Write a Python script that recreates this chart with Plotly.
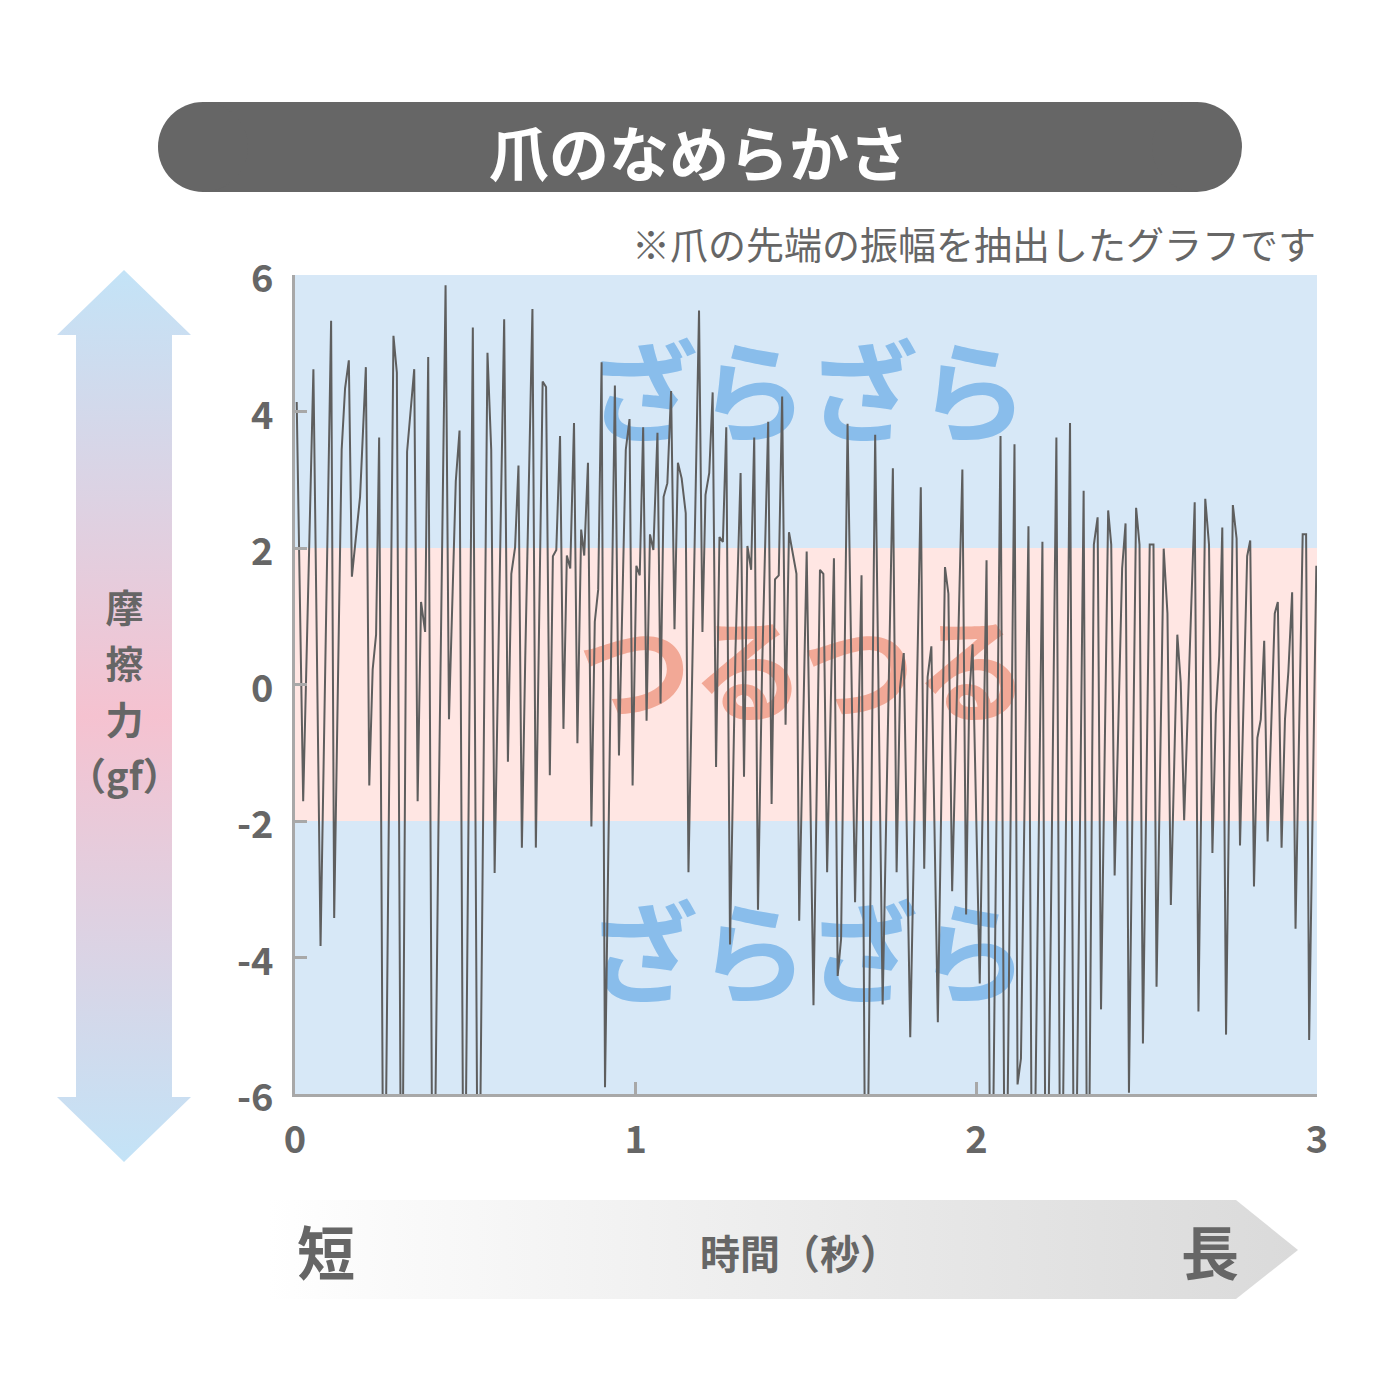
import plotly.graph_objects as go

# ---------------- data ----------------
time_s = [
    0.005, 0.024, 0.054, 0.075, 0.106, 0.115, 0.137, 0.147, 0.158, 0.167, 0.191, 0.208, 0.218, 0.228, 0.238, 0.247, 0.261, 0.289,
    0.299, 0.313, 0.329, 0.350, 0.360, 0.370, 0.382, 0.391, 0.405, 0.421, 0.442, 0.452, 0.472, 0.483, 0.496, 0.522, 0.538, 0.565, 0.576, 0.586,
    0.614, 0.625, 0.635, 0.646, 0.656, 0.666, 0.676, 0.697, 0.707, 0.727, 0.737, 0.748, 0.757, 0.767, 0.778, 0.788, 0.798, 0.808, 0.819, 0.829,
    0.840, 0.849, 0.860, 0.870, 0.880, 0.890, 0.900,
    0.910, 0.939, 0.951, 0.971, 0.982, 0.991, 1.002, 1.012, 1.022, 1.032, 1.042, 1.052, 1.064, 1.073, 1.082, 1.093, 1.104, 1.114, 1.124, 1.135,
    1.147, 1.155, 1.186, 1.196,
    1.205, 1.216, 1.226, 1.236, 1.246, 1.256, 1.266, 1.277, 1.293, 1.308, 1.318, 1.328, 1.339, 1.348, 1.359, 1.371, 1.389, 1.399, 1.409, 1.420,
    1.430, 1.440, 1.450, 1.472, 1.480, 1.502,
    1.522, 1.541, 1.551, 1.562, 1.582, 1.593, 1.603, 1.622, 1.644, 1.663, 1.676, 1.703, 1.725, 1.755, 1.766, 1.776, 1.787, 1.806,
    1.837, 1.847, 1.857, 1.868, 1.887, 1.908, 1.918, 1.929, 1.959, 1.970, 1.979, 1.989, 2.010, 2.030, 2.043, 2.071, 2.085, 2.112,
    2.121, 2.131, 2.153, 2.165, 2.194, 2.205, 2.235, 2.248, 2.275, 2.288, 2.315, 2.327, 2.345, 2.356, 2.366, 2.387, 2.396, 2.406,
    2.428, 2.438, 2.448, 2.469, 2.479, 2.489, 2.509, 2.520, 2.529, 2.550, 2.561, 2.571, 2.590, 2.600, 2.610, 2.641, 2.652, 2.672, 2.683,
    2.693, 2.703, 2.713,
    2.722, 2.733, 2.753, 2.764, 2.774, 2.795, 2.804, 2.815, 2.825, 2.835, 2.845, 2.855, 2.876, 2.885, 2.896, 2.906, 2.916, 2.927, 2.937,
    2.958, 2.968, 2.977, 2.998,
]
friction_gf = [
    4.14, -1.71, 4.62, -3.83, 5.33, -3.42, 3.44, 4.34, 4.75, 1.58, 2.75, 4.65, -1.48, 0.22, 0.73, 3.62, -9.5, 5.11,
    4.57, -9.5, 3.41, 4.62, -1.71, 1.21, 0.77, 4.80, -9.5, -2.14, 5.85, -0.51, 2.98, 3.72, -9.5, 5.23, -9.5, 4.86, 3.44, -2.76,
    5.35, -1.13, 1.62, 2.01, 3.21, -2.39, 0.42, 5.50, -2.39, 4.44, 4.36, -1.33, 1.88, 1.97, 3.64, -0.65, 1.89, 1.70, 3.83, -0.86,
    2.27, 1.89, 3.25, -2.08, 0.92, 1.39, 4.72,
    -5.90, 4.38, -1.04, 3.44, 3.89, -1.48, 1.74, 1.60, 3.77, -0.53, 2.20, 1.97, 3.69, -0.28, 2.75, 2.95, 4.30, 0.81, 3.25, 3.02,
    2.51, -2.75, 5.48, 0.77,
    2.78, 3.10, 4.28, -1.21, 2.16, 2.09, 3.77, -3.81, 0.50, 3.10, -1.35, 2.03, 1.68, 3.62, -3.30, 0.19, 3.85, -1.75, 1.54, 1.60,
    4.22, -0.59, 2.23, 1.62, -3.46, 1.95,
    -4.70, 1.68, 1.62, -2.75, 1.85, -4.27, -3.73, 3.82, -3.19, 1.60, -9.5, 3.66, -4.69, 3.17, -2.75, -0.05, 0.46, -5.17,
    2.89, -2.70, 0.11, 0.56, -4.95, 1.72, 1.33, -3.03, 3.15, -3.37, -0.20, 0.59, -4.38, 1.82, -9.5, 3.64, -9.5, 3.52,
    -5.86, -5.48, 2.32, -9.5, 2.09, -9.5, 3.62, -9.5, 3.83, -9.5, 2.84, -9.5, 2.05, 2.45, -4.76, 2.55, 2.05, -2.80,
    1.70, 2.36, -5.98, 2.59, 2.05, -5.26, 2.05, 2.05, -4.43, 1.99, 1.04, -3.23, 0.73, 0.03, -1.99, 2.67, -4.79, 2.72, 2.05,
    -2.47, -0.43, 0.42,
    2.30, -5.13, 2.63, 2.14, -2.36, 1.88, 2.11, -2.96, -0.78, -0.51, 0.64, -2.30, 1.04, 1.21, -2.39, -0.51, 0.19, 1.35, -3.58,
    2.20, 2.20, -5.21, 1.74,
]
y_tick_vals = [-6, -4, -2, 0, 2, 4, 6]
y_tick_text = ["-6", "-4", "-2", "0", "2", "4", "6"]
x_tick_vals = [0, 1, 2, 3]
x_tick_text = ["0", "1", "2", "3"]
zone_labels = ["ざらざら", "つるつる", "ざらざら"]
zone_limits = [-6, -2, 2, 6]

# ---------------- styles / layout constants ----------------
W = H = 1400
OFF = 8  # page body margin added by the browser
FONT = "Noto Sans CJK JP, Noto Sans, sans-serif"
GRAY_TXT = "#666666"
AXIS_COL = "#A8A8A8"
BLUE_BAND = "#D7E8F7"
PINK_BAND = "#FFE6E3"
BLUE_TXT = "#89BDEB"
PINK_TXT = "#F2A896"
PLOT_L, PLOT_R, PLOT_T, PLOT_B = 295, 1317, 275, 1094

zone_label_x = [1.506, 1.492, 1.506]
zone_label_y = [4.07, 0.0, -4.14]
zone_label_size = [110, 114, 110]

fig = go.Figure()

# watermark zone labels (under the signal)
fig.add_trace(go.Scatter(
    x=zone_label_x, y=zone_label_y, text=zone_labels, mode="text",
    textposition="middle center",
    textfont=dict(family=FONT, size=zone_label_size, color=[BLUE_TXT, PINK_TXT, BLUE_TXT], weight="bold"),
    hoverinfo="skip", showlegend=False, cliponaxis=False,
))

# friction signal
fig.add_trace(go.Scatter(
    x=time_s, y=friction_gf, mode="lines",
    line=dict(color="#5E5E5E", width=2),
    hoverinfo="skip", showlegend=False,
))

# ---- decorative overlay in pixel coordinates (x2/y2) ----
arrow_x = [124, 191, 172, 172, 191, 124, 57, 76, 76, 57, 124]
arrow_y = [270, 335, 335, 1097, 1097, 1162, 1097, 1097, 335, 335, 270]
fig.add_trace(go.Scatter(
    x=arrow_x, y=arrow_y, xaxis="x2", yaxis="y2", mode="lines",
    fill="toself", line=dict(width=0, color="rgba(0,0,0,0)"),
    fillgradient=dict(type="vertical",
                      colorscale=[[0, "#C3E3F7"], [0.5, "#F5C2D0"], [1, "#C3E3F7"]]),
    hoverinfo="skip", showlegend=False,
))

band_x = [268, 1236, 1298, 1236, 268, 268]
band_y = [1200, 1200, 1250, 1299, 1299, 1200]
fig.add_trace(go.Scatter(
    x=band_x, y=band_y, xaxis="x2", yaxis="y2", mode="lines",
    fill="toself", line=dict(width=0, color="rgba(0,0,0,0)"),
    fillgradient=dict(type="horizontal",
                      colorscale=[[0, "#FFFFFF"], [0.12, "#FAFAFA"], [1, "#DADADA"]]),
    hoverinfo="skip", showlegend=False,
))

shapes = []
# background zones
shapes.append(dict(type="rect", xref="x", yref="y", x0=0, x1=3, y0=zone_limits[0], y1=zone_limits[3],
                   fillcolor=BLUE_BAND, line=dict(width=0), layer="below"))
shapes.append(dict(type="rect", xref="x", yref="y", x0=0, x1=3, y0=zone_limits[1], y1=zone_limits[2],
                   fillcolor=PINK_BAND, line=dict(width=0), layer="below"))
# title pill
shapes.append(dict(type="rect", xref="x2", yref="y2", x0=203, x1=1197, y0=102, y1=192,
                   fillcolor="#666666", line=dict(width=0), layer="below"))
shapes.append(dict(type="circle", xref="x2", yref="y2", x0=158, x1=248, y0=102, y1=192,
                   fillcolor="#666666", line=dict(width=0), layer="below"))
shapes.append(dict(type="circle", xref="x2", yref="y2", x0=1152, x1=1242, y0=102, y1=192,
                   fillcolor="#666666", line=dict(width=0), layer="below"))

annotations = []
def ann(text, x, y, size, color=GRAY_TXT, weight="bold", xanchor="center"):
    annotations.append(dict(text=text, x=x, y=y, xref="x2", yref="y2", showarrow=False,
                            xanchor=xanchor, yanchor="middle",
                            font=dict(family=FONT, size=size, color=color, weight=weight)))

ann("爪のなめらかさ", 699, 150, 60, color="#FFFFFF")
ann("※爪の先端の振幅を抽出したグラフです", 1318, 242, 38, weight="normal", xanchor="right")
big = "<span style='font-size:38px'>{}</span>"
ann(big.format("摩") + "<br>" + big.format("擦") + "<br>" + big.format("力") + "<br>"
    + "<span style='font-size:38px'>（gf）</span>", 124, 689, 43)
ann("短", 326, 1250, 58)
ann("時間（秒）", 800, 1252, 40)
ann("長", 1210, 1250, 58)

fig.update_layout(
    width=W, height=H,
    margin=dict(l=0, r=0, t=0, b=0, pad=0, autoexpand=False),
    paper_bgcolor="#FFFFFF",
    plot_bgcolor="rgba(0,0,0,0)",
    showlegend=False,
    shapes=shapes,
    annotations=annotations,
    xaxis=dict(
        domain=[(PLOT_L - OFF) / W, (PLOT_R - OFF) / W], range=[0, 3], anchor="y",
        tickvals=x_tick_vals, ticktext=x_tick_text,
        ticks="inside", ticklen=12, tickwidth=3, tickcolor=AXIS_COL,
        showline=True, linecolor=AXIS_COL, linewidth=3,
        showgrid=False, zeroline=False, fixedrange=True, automargin=False,
        tickfont=dict(family=FONT, size=38, color=GRAY_TXT, weight="bold"),
        ticklabelstandoff=10,
    ),
    yaxis=dict(
        domain=[1 - (PLOT_B - OFF) / H, 1 - (PLOT_T - OFF) / H], range=[-6, 6], anchor="x",
        tickvals=y_tick_vals, ticktext=y_tick_text,
        ticks="inside", ticklen=12, tickwidth=3, tickcolor=AXIS_COL,
        showline=True, linecolor=AXIS_COL, linewidth=3,
        showgrid=False, zeroline=False, fixedrange=True, automargin=False,
        tickfont=dict(family=FONT, size=38, color=GRAY_TXT, weight="bold"),
        ticklabelstandoff=11, ticklabelshift=4,
    ),
    xaxis2=dict(domain=[0, 1], range=[OFF, W + OFF], anchor="y2", visible=False, fixedrange=True, automargin=False),
    yaxis2=dict(domain=[0, 1], range=[H + OFF, OFF], anchor="x2", visible=False, fixedrange=True, automargin=False),
)

fig.write_html("out.html")
